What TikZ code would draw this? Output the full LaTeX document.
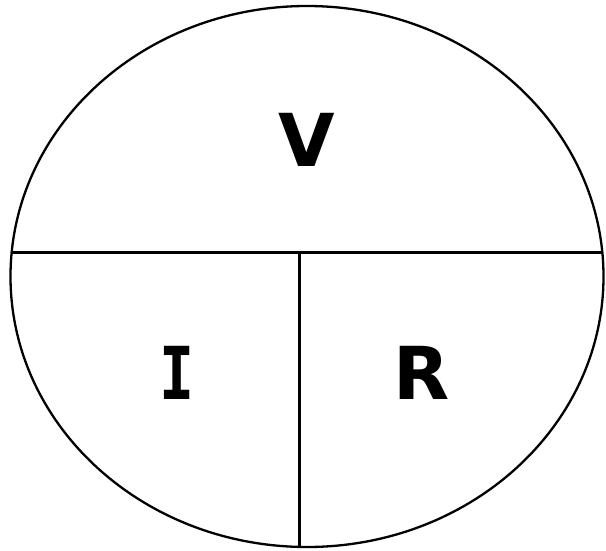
\documentclass[tikz,border=0pt]{standalone}
\usepackage{fontspec}
\setmainfont{DejaVu Sans}
\newfontfamily\monobold{DejaVu Sans Mono}
\begin{document}
\begin{tikzpicture}[x=1pt,y=-1pt,
  outline/.style={line width=2.3pt,black},
  divider/.style={line width=3pt,black},
  letter/.style={font=\fontsize{73}{80}\selectfont\bfseries,inner sep=0pt,anchor=center}]
\useasboundingbox (0,0) rectangle (606,550);
\coordinate (c) at (307,276.5);
\draw[outline] (c) ellipse [x radius=296.5, y radius=270.5];
\coordinate (hl) at (10.8,252.5);
\coordinate (hr) at (603.2,252.5);
\coordinate (vt) at (299,252.5);
\coordinate (vb) at (299,546.5);
\draw[divider] (hl) -- (hr);
\draw[divider] (vt) -- (vb);
\node[letter] (V) at (307,140) {V};
\node[letter,font=\fontsize{73}{80}\selectfont\monobold\bfseries,xscale=0.8,transform shape] (I) at (177,372.5) {I};
\node[letter] (R) at (422,373) {R};
\end{tikzpicture}
\end{document}
